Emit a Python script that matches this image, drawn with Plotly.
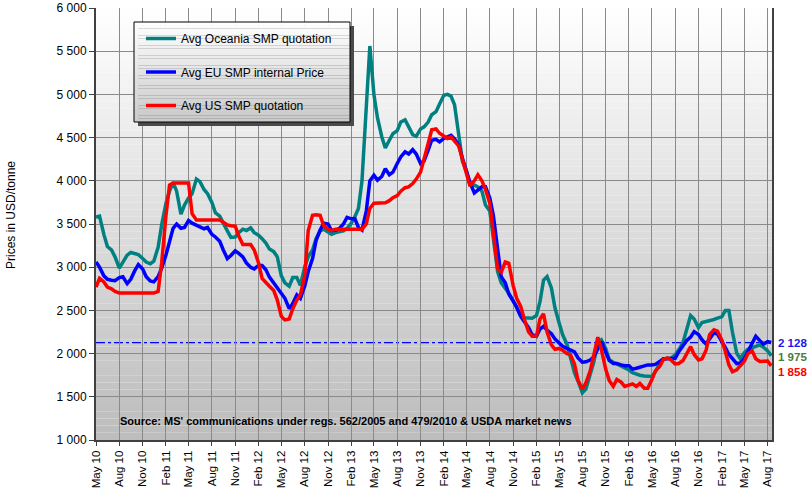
import pandas as pd
import plotly.graph_objects as go

# ---- data (semi-monthly readings, starting May 2010) ----
oceania = [3580, 3590, 3380, 3240, 3200, 3120, 2990, 3060, 3140, 3170,
           3160, 3145, 3100, 3060, 3040, 3070, 3230, 3490, 3740, 3880,
           3980, 3880, 3615, 3720, 3800, 3850, 4020, 3990, 3900, 3850,
           3750, 3630, 3590, 3500, 3420, 3345, 3350, 3400, 3440, 3425,
           3455, 3400, 3370, 3330, 3280, 3210, 3180, 3120, 2900, 2820,
           2780, 2880, 2880, 2790, 3000, 3120, 3200, 3330, 3420, 3440,
           3400, 3380, 3400, 3405, 3420, 3450, 3510, 3585, 3680, 4000,
           4900, 5560, 5000, 4730, 4510, 4380, 4470, 4545, 4580, 4680,
           4705, 4620, 4535, 4515, 4600, 4625, 4680, 4765, 4800, 4890,
           4990, 5000, 4980, 4880, 4550, 4230, 4110, 3950, 3950, 3930,
           3880, 3720, 3650, 3350, 2950, 2820, 2760, 2700, 2610, 2520,
           2440, 2415, 2410, 2410, 2440, 2600, 2850, 2890, 2760, 2530,
           2360, 2220, 2110, 1960, 1780, 1680, 1546, 1590, 1780, 1900,
           2130, 2160, 2060, 1930, 1900, 1880, 1860, 1835, 1810, 1780,
           1760, 1750, 1740, 1735, 1735, 1790, 1888, 1930, 1946, 1946,
           1985, 2040, 2130, 2273, 2440, 2400, 2300, 2360, 2370, 2385,
           2395, 2410, 2425, 2500, 2500, 2250, 2004, 1940, 2010, 2050,
           2070, 2085, 2100, 2075, 2030, 1975]

eu = [3060, 3000, 2900, 2860, 2850, 2845, 2880, 2890, 2810, 2860,
      2960, 3030, 2980, 2890, 2840, 2830, 2890, 2990, 3140, 3310,
      3450, 3500, 3450, 3460, 3540, 3510, 3490, 3470, 3445, 3460,
      3380, 3350, 3300, 3200, 3100, 3135, 3190, 3160, 3120, 3050,
      3000, 2980, 3020, 3020, 2970, 2885, 2820, 2750, 2690, 2640,
      2520, 2580, 2680, 2640, 2780, 2950, 3100, 3310, 3430, 3510,
      3500, 3424, 3430, 3445, 3500, 3576, 3560, 3560, 3460, 3430,
      3650, 4000, 4065, 4008, 4050, 4140, 4070, 4100, 4200, 4277,
      4335, 4310, 4360, 4310, 4200, 4230, 4354, 4470, 4480, 4450,
      4490, 4505, 4527, 4485, 4410, 4260, 4100, 3980, 3860, 3892,
      3930, 3930, 3800, 3600, 3200, 2890, 2820, 2690, 2610, 2540,
      2430, 2370, 2300, 2219, 2200, 2285, 2315, 2270, 2230, 2170,
      2120, 2085, 2060, 2046, 2020, 1950, 1900, 1905, 1925, 1960,
      2060, 2138, 2020, 1920, 1885, 1885, 1870, 1860, 1860, 1820,
      1830, 1840, 1855, 1869, 1869, 1875, 1908, 1940, 1940, 1940,
      1946, 2020, 2100, 2150, 2190, 2254, 2220, 2160, 2110, 2177,
      2240, 2225, 2150, 2070, 1990, 1935, 1885, 1890, 1940, 2023,
      2110, 2200, 2150, 2110, 2138, 2128]

us = [2770, 2870, 2830, 2770, 2750, 2720, 2700, 2700, 2700, 2700,
      2700, 2700, 2700, 2700, 2700, 2700, 2720, 3050, 3600, 3950,
      3975, 3975, 3975, 3975, 3975, 3620, 3546, 3546, 3546, 3546,
      3546, 3546, 3546, 3520, 3490, 3480, 3475, 3360, 3262, 3262,
      3262, 3200, 3050, 2870, 2815, 2780, 2730, 2620, 2430, 2390,
      2400, 2520, 2620, 2680, 2900, 3424, 3600, 3606, 3600, 3480,
      3440, 3424, 3440, 3440, 3440, 3440, 3440, 3440, 3440, 3440,
      3500, 3680, 3740, 3745, 3746, 3746, 3770, 3805, 3830, 3880,
      3920, 3930, 3969, 4020, 4100, 4270, 4431, 4590, 4600, 4550,
      4515, 4490, 4508, 4465, 4400, 4250, 4080, 3940, 4000, 4070,
      4000, 3900, 3740, 3420, 2980, 2940, 3060, 3046, 2790, 2640,
      2546, 2400, 2250, 2200, 2200, 2400, 2460, 2250, 2100, 2050,
      2060, 2040, 2000, 1988, 1880, 1690, 1590, 1660, 1800, 1980,
      2190, 2050, 1820, 1690, 1620, 1700, 1670, 1620, 1640, 1650,
      1620, 1655, 1600, 1600, 1696, 1800, 1850, 1930, 1950, 1930,
      1880, 1885, 1920, 2000, 2080, 1990, 1927, 1940, 2040, 2220,
      2275, 2260, 2160, 2023, 1870, 1790, 1812, 1860, 1910, 2000,
      2030, 1940, 1910, 1912, 1915, 1858]

series_names = ["Avg Oceania SMP quotation", "Avg EU SMP internal Price", "Avg US SMP quotation"]
start_date = "2010-05-01"
tick_dates = pd.date_range("2010-05-01", "2017-08-01", freq="3MS")
tick_text = [d.strftime("%b %y") for d in tick_dates]
y_ticks = list(range(1000, 6001, 500))
source_text = "Source: MS' communications under regs. 562/2005 and 479/2010 & USDA market news"
y_title = "Prices in USD/tonne"


def fmt(v):
    return f"{v:,}".replace(",", " ")


FONT = "Liberation Sans, Arial, sans-serif"
W, H = 811, 495
L, R, T, B = 96, 39, 8, 55
PW, PH = W - L - R, H - T - B


def px_x(px):
    return (px - L) / PW


def px_y(py):
    return (H - B - py) / PH


fig = go.Figure()

line_colors = ["#008080", "#0000ff", "#ff0000"]
label_colors = ["#4a7d34", "#1a1ae6", "#ff0000"]
label_shift = [-1, 0, -6]
all_series = [oceania, eu, us]

for i, (name, vals, col) in enumerate(zip(series_names, all_series, line_colors)):
    dates = pd.date_range(start_date, periods=len(vals), freq="SMS")
    fig.add_trace(go.Scatter(x=dates, y=vals, mode="lines", name=name,
                             legendgroup=f"g{i}",
                             line=dict(color=col, width=3.5)))

shapes = []
# plot area gradient background
nb = 60
for k in range(nb):
    g = int(round(188 + (255 - 188) * (k + 0.5) / nb))
    shapes.append(dict(type="rect", xref="x domain", yref="y domain",
                       x0=0, x1=1, y0=k / nb, y1=(k + 1) / nb,
                       fillcolor=f"rgb({g},{g},{g})", line=dict(width=0),
                       layer="below"))

# reference dash-dot line at last EU value
shapes.append(dict(type="line", xref="x domain", yref="y", x0=0, x1=1,
                   y0=eu[-1], y1=eu[-1],
                   line=dict(color="#0000ff", width=1.3, dash="dashdot"),
                   layer="below"))

# legend box: shadow, gradient, border
lx0, lx1, ly0, ly1 = 134, 350, 22, 122
shapes.append(dict(type="rect", xref="paper", yref="paper",
                   x0=px_x(lx0 + 4), x1=px_x(lx1 + 4), y0=px_y(ly1 + 4), y1=px_y(ly0 + 4),
                   fillcolor="#4a4a4a", line=dict(width=0), layer="above"))
nl = 30
for k in range(nl):
    g = int(round(200 + (255 - 200) * (k + 0.5) / nl))
    ya = ly1 - (ly1 - ly0) * k / nl
    yb = ly1 - (ly1 - ly0) * (k + 1) / nl
    shapes.append(dict(type="rect", xref="paper", yref="paper",
                       x0=px_x(lx0), x1=px_x(lx1), y0=px_y(ya), y1=px_y(yb),
                       fillcolor=f"rgb({g},{g},{g})", line=dict(width=0),
                       layer="above"))
shapes.append(dict(type="rect", xref="paper", yref="paper",
                   x0=px_x(lx0), x1=px_x(lx1), y0=px_y(ly1), y1=px_y(ly0),
                   fillcolor="rgba(0,0,0,0)", line=dict(color="#000000", width=1),
                   layer="above"))

annotations = []
for vals, col, sh in zip(all_series, label_colors, label_shift):
    annotations.append(dict(x=1, xref="paper", y=vals[-1], yref="y",
                            xanchor="left", yanchor="middle", xshift=5, yshift=sh,
                            text=f"<b>{fmt(vals[-1])}</b>", showarrow=False,
                            borderpad=0,
                            font=dict(family=FONT, size=11.5, color=col)))
annotations.append(dict(x=px_x(118), xref="paper", y=px_y(421), yref="paper",
                        xanchor="left", yanchor="middle", showarrow=False,
                        text=f"<b>{source_text}</b>",
                        font=dict(family=FONT, size=11, color="#000000")))
annotations.append(dict(x=px_x(11), xref="paper", y=px_y(215), yref="paper",
                        xanchor="center", yanchor="middle", showarrow=False,
                        textangle=-90, text=y_title,
                        font=dict(family=FONT, size=12, color="#000000")))

fig.update_layout(
    width=W, height=H,
    margin=dict(l=L, r=R, t=T, b=B, autoexpand=False),
    paper_bgcolor="#ffffff", plot_bgcolor="#ffffff",
    font=dict(family=FONT, size=12, color="#000000"),
    shapes=shapes, annotations=annotations,
    showlegend=True,
    legend=dict(x=px_x(141), y=px_y(24), xanchor="left", yanchor="top",
                bgcolor="rgba(0,0,0,0)", borderwidth=0,
                tracegroupgap=14.5, traceorder="grouped",
                font=dict(family=FONT, size=12, color="#000000")),
    xaxis=dict(type="date", range=["2010-05-01", "2017-08-18"],
               tickmode="array", tickvals=tick_dates, ticktext=tick_text,
               tickangle=-90, ticks="outside", ticklen=4, tickcolor="#404040",
               tickfont=dict(family=FONT, size=11.5),
               showgrid=True, gridcolor="#8a8a8a", gridwidth=1,
               showline=True, linecolor="#404040", linewidth=2, mirror=False,
               zeroline=False),
    yaxis=dict(range=[1000, 6000], tickmode="array", tickvals=y_ticks,
               ticktext=[fmt(v) for v in y_ticks],
               ticks="outside", ticklen=5, tickcolor="#404040",
               tickfont=dict(family=FONT, size=12),
               showgrid=True, gridcolor="#8a8a8a", gridwidth=1,
               showline=True, linecolor="#404040", linewidth=2, mirror=True,
               zeroline=False),
)

fig.write_html("out.html", config={"displayModeBar": False},
               post_script="document.body.style.margin='0';document.body.style.padding='0';")
